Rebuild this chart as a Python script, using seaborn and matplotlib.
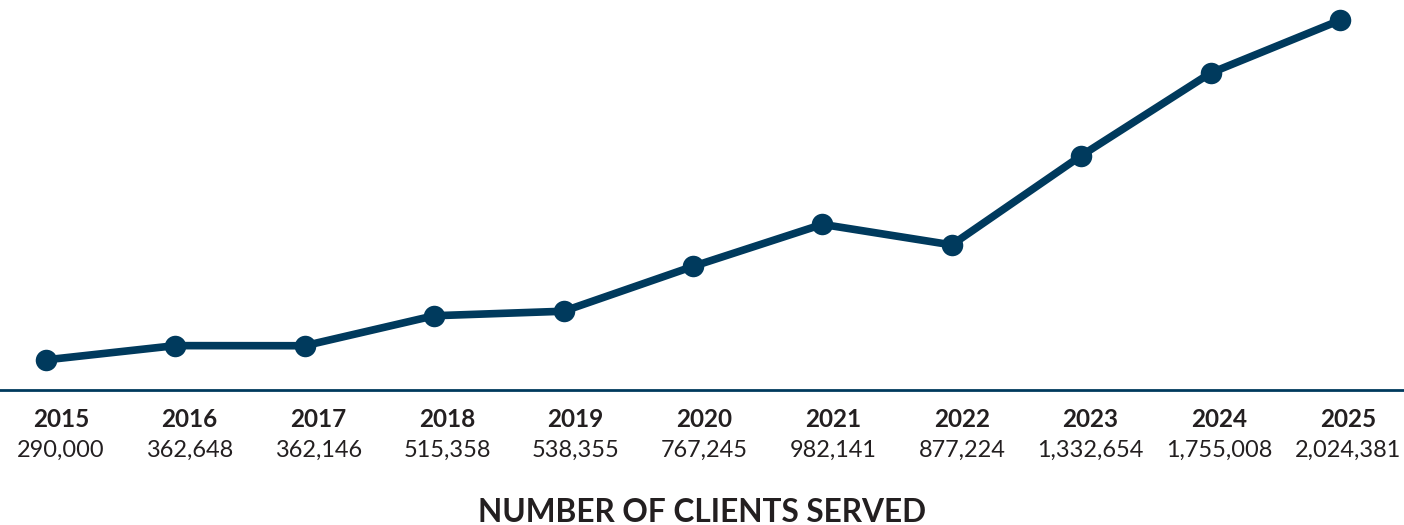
import matplotlib
matplotlib.use("Agg")
import matplotlib.pyplot as plt
import matplotlib.transforms as mtransforms
import pandas as pd
import seaborn as sns

years = [2015, 2016, 2017, 2018, 2019, 2020, 2021, 2022, 2023, 2024, 2025]
clients = [290000, 362648, 362146, 515358, 538355, 767245, 982141, 877224,
           1332654, 1755008, 2024381]

df = pd.DataFrame({"year": years, "clients": clients})

navy = "#003a5d"
ink = "#231f20"

sns.set_style("white")
plt.rcParams["font.family"] = ["Lato", "DejaVu Sans"]

fig = plt.figure(figsize=(14.04, 5.25), dpi=100)
ax = fig.add_axes([0, 135 / 525, 1, 390 / 525])

sns.lineplot(data=df, x="year", y="clients", ax=ax, color=navy, linewidth=5.5,
             marker="o", markersize=15.5, markeredgewidth=0, clip_on=False)

ax.set_xlim(2014.645, 2025.495)
ax.set_ylim(136030, 2128160)

for s in ["top", "left", "right"]:
    ax.spines[s].set_visible(False)
ax.spines["bottom"].set_color(navy)
ax.spines["bottom"].set_linewidth(2)
ax.set_xticks([])
ax.set_yticks([])
ax.set_xlabel("")
ax.set_ylabel("")

# year / count labels under the axis line
trans = mtransforms.blended_transform_factory(ax.transData, ax.transAxes)
for i, (yr, val) in enumerate(zip(years, clients)):
    shift = 15 - 0.7 * i
    t = trans + mtransforms.ScaledTranslation(shift / 100, 0, fig.dpi_scale_trans)
    ax.text(yr, -0.076, str(yr), transform=t, ha="center", va="center",
            fontsize=17.5, fontweight="bold", color=ink)
    ax.text(yr, -0.156, f"{val:,}", transform=t, ha="center", va="center",
            fontsize=16.9, color=ink)

fig.text(0.5, 1 - 512 / 525, "NUMBER OF CLIENTS SERVED", ha="center", va="center",
         fontsize=22.8, fontweight="bold", color=ink)

fig.savefig("out.png", dpi=100)
